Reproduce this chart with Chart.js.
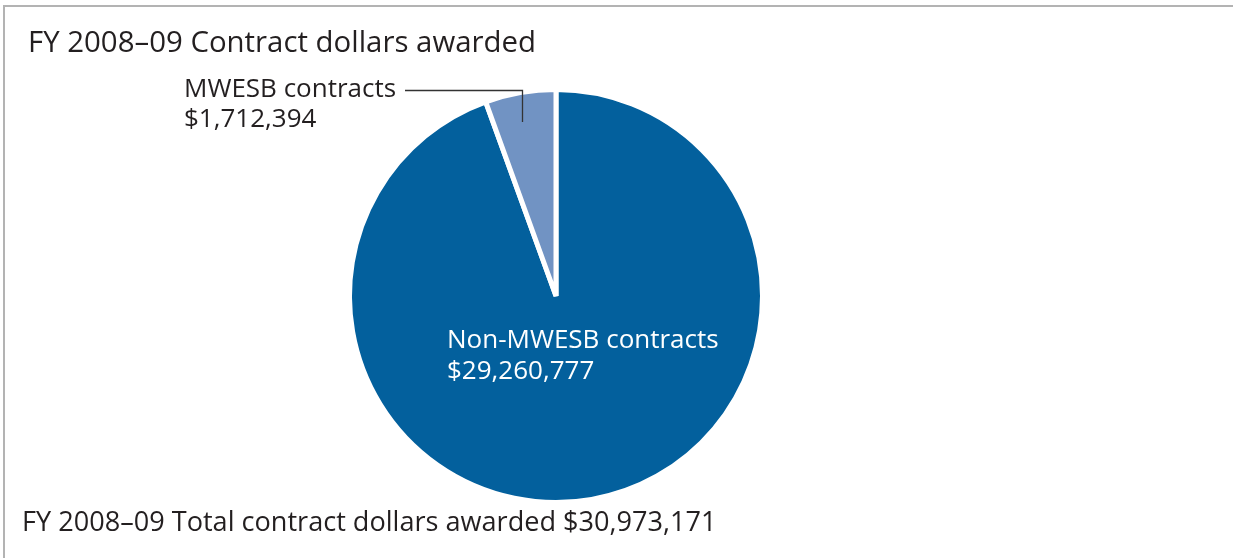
<!DOCTYPE html>
<html>
<head>
<meta charset="utf-8">
<script src="https://cdn.jsdelivr.net/npm/chart.js@4.4.1/dist/chart.umd.min.js"></script>
<style>
    html, body { margin: 0; padding: 0; background: #fff; }
    #wrap { position: relative; width: 1233px; height: 558px; }
</style>
</head>
<body>
<div id="wrap"><canvas id="pieChart" width="1233" height="558"></canvas></div>
<script>
const TITLE = "FY 2008–09 Contract dollars awarded";
const TOTAL_LABEL = "FY 2008–09 Total contract dollars awarded";
const TOTAL_VALUE = 30973171;

// slice order: big one first so the small one ends at 12 o'clock
const LABELS = ["Non-MWESB contracts", "MWESB contracts"];
const VALUES = [29260777, 1712394];
const COLORS = ["#03609d", "#7193c3"];

const FONT = "'Open Sans', 'DejaVu Sans', sans-serif";

function money(v) {
    return "$" + v.toLocaleString("en-US");
}

// titles, labels and the little leader line
const annotations = {
    id: "annotations",
    afterDraw(chart) {
        const ctx = chart.ctx;
        ctx.save();

        // frame (only top and left edges fall inside the picture)
        ctx.strokeStyle = "#b3b3b3";
        ctx.lineWidth = 2;
        ctx.beginPath();
        ctx.moveTo(4, 560);
        ctx.lineTo(4, 6);
        ctx.lineTo(1240, 6);
        ctx.stroke();

        ctx.textBaseline = "middle";
        ctx.textAlign = "left";

        ctx.fillStyle = "#231f20";
        ctx.font = "29.4px " + FONT;
        ctx.fillText(TITLE, 28, 44);

        ctx.font = "27.1px " + FONT;
        ctx.fillText(TOTAL_LABEL + " " + money(TOTAL_VALUE), 22, 523);

        // MWESB label (outside)
        ctx.font = "26px " + FONT;
        ctx.fillText(LABELS[1], 184, 90);
        ctx.fillText(money(VALUES[1]), 184, 120);

        // leader line
        ctx.strokeStyle = "#333";
        ctx.lineWidth = 1.3;
        ctx.beginPath();
        ctx.moveTo(405, 90.5);
        ctx.lineTo(522.5, 90.5);
        ctx.lineTo(522.5, 122);
        ctx.stroke();

        // Non-MWESB label (inside, white)
        ctx.fillStyle = "#ffffff";
        ctx.fillText(LABELS[0], 447, 341);
        ctx.fillText(money(VALUES[0]), 447, 372);

        ctx.restore();
    }
};

const ctx = document.getElementById("pieChart").getContext("2d");
new Chart(ctx, {
    type: "pie",
    data: {
        labels: LABELS,
        datasets: [{
            data: VALUES,
            backgroundColor: COLORS,
            borderColor: "#ffffff",
            borderWidth: 5,
        }]
    },
    options: {
        responsive: false,
        animation: false,
        layout: {
            padding: { left: 347, right: 468, top: 87, bottom: 53 }
        },
        plugins: {
            legend: { display: false },
            tooltip: { enabled: false },
            title: { display: false }
        }
    },
    plugins: [annotations]
});
</script>
</body>
</html>
